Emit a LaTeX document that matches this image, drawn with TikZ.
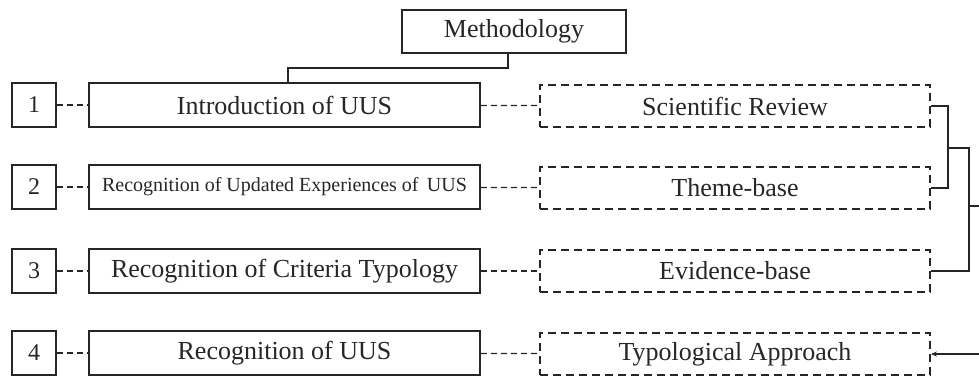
\documentclass[tikz,border=0pt]{standalone}
\usepackage{fontspec}
\setmainfont{Liberation Serif}
\usetikzlibrary{arrows.meta}
\begin{document}
\begin{tikzpicture}[x=1pt,y=-1pt,
  solidbox/.style={draw=black!85, line width=1.8pt, minimum height=44pt, inner sep=0pt, text=black!85, font=\fontsize{26}{28}\selectfont},
  mainbox/.style={solidbox, minimum width=391pt},
  numbox/.style={solidbox, minimum width=44pt, font=\fontsize{24}{26}\selectfont},
  dashbox/.style={draw=black!85, line width=1.8pt, dash pattern=on 8pt off 5pt, minimum width=390pt, minimum height=42pt, inner sep=0pt, text=black!85, font=\fontsize{26}{28}\selectfont},
  link/.style={draw=black!85, line width=1.3pt},
  dlink/.style={link, dash pattern=on 6pt off 4pt}]
\useasboundingbox (0,0) rectangle (979,376);
\node[solidbox, minimum width=224pt, minimum height=43pt] (meth) at (514,31.5) {Methodology};

\node[numbox] (n1) at (34,105) {1};
\node[numbox] (n2) at (34,187) {2};
\node[numbox] (n3) at (34,271) {3};
\node[numbox] (n4) at (34,353) {4};

\node[mainbox] (m1) at (284.5,105) {Introduction of UUS};
\node[mainbox] (m2) at (284.5,187) {\fontsize{20}{22}\selectfont Recognition of Updated Experiences of\, UUS};
\node[mainbox] (m3) at (284.5,271) {Recognition of Criteria Typology};
\node[mainbox] (m4) at (284.5,353) {Recognition of UUS};

\node[dashbox] (d1) at (735,106) {Scientific Review};
\node[dashbox] (d2) at (735,188) {Theme-base};
\node[dashbox] (d3) at (735,271) {Evidence-base};
\node[dashbox] (d4) at (735,354) {Typological Approach};

\foreach \i in {1,2,3,4} {
  \draw[dlink] (n\i) -- (m\i);
  \draw[dlink] (m\i) -- (d\i);
}

\draw[link] (meth.south -| 508,0) -- (508,68) -| (m1.north -| 288,0);

\coordinate (j1) at (948,148);
\coordinate (j2) at (969,206);
\coordinate (out) at (979,206);
\coordinate (in) at (979,354);
\draw[link] (d1.east) -| (j1) |- (d2.east);
\draw[link] (j1) -- (969,148) |- (d3.east);
\draw[link] (969,206) -- (out);
\draw[link, -{Stealth[length=6pt,width=5pt]}] (in) -- (d4.east);
\end{tikzpicture}
\end{document}
